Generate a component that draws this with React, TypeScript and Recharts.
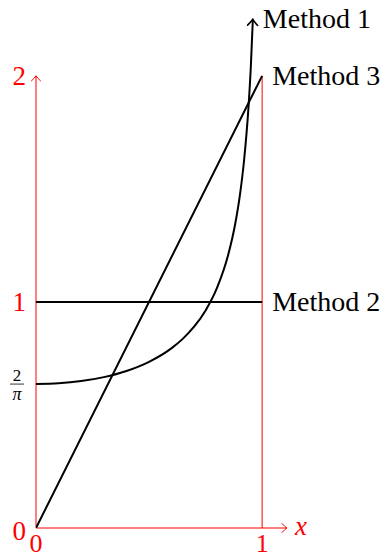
import React from 'react';
import { LineChart, Line, XAxis, YAxis, ReferenceLine } from 'recharts';

// Method 1: rises from 2/π and shoots up near x = 1
const method1X = [0, 0.1, 0.2, 0.3, 0.4, 0.5, 0.6, 0.65, 0.7, 0.75, 0.8, 0.85, 0.88, 0.9, 0.92, 0.94, 0.95, 0.959];
const method1Y = [0.6366, 0.6398, 0.6497, 0.6674, 0.6946, 0.7351, 0.7958, 0.8377, 0.8914, 0.9625, 1.061, 1.2085, 1.3403, 1.4605, 1.6244, 1.8658, 2.039, 2.25];
// Method 2: constant at 1
const method2X = [0, 1];
const method2Y = [1, 1];
// Method 3: straight line from 0 to 2
const method3X = [0, 1];
const method3Y = [0, 2];

const seriesNames = ['Method 1', 'Method 2', 'Method 3'];
const xTicks = [0, 1];
const yTicks = [0, 0.6366, 1, 2];
const yTickLabels = ['0', '2/π', '1', '2'];
const xAxisEnd = 1.11;
const yAxisEnd = 2;

const toPoints = (xs: number[], ys: number[]) => xs.map((x, i) => ({ x, y: ys[i] }));
const method1 = toPoints(method1X, method1Y);
const method2 = toPoints(method2X, method2Y);
const method3 = toPoints(method3X, method3Y);

const RED = '#ff0000';
const FONT = '"Liberation Serif", "Times New Roman", serif';

const endLabel = (name: string, lastIndex: number) => (p: any) => {
  if (p.index !== lastIndex) return null;
  return (
    <text x={p.x + 10} y={p.y + 9} fontSize={28} fontFamily={FONT} fill="#000" textAnchor="start">
      {name}
    </text>
  );
};

const XTick = (p: any) => {
  const v = p.payload.value;
  return (
    <text x={p.x} y={552} fontSize={26} fontFamily={FONT} fill={RED} textAnchor="middle">
      {String(v)}
    </text>
  );
};

const YTick = (p: any) => {
  const i = yTicks.indexOf(p.payload.value);
  const label = yTickLabels[i];
  if (label === '2/π') {
    return (
      <g fontFamily={FONT} fill="#000">
        <text x={17} y={p.y - 3} fontSize={17} textAnchor="middle">2</text>
        <line x1={10} x2={24} y1={p.y} y2={p.y} stroke="#000" strokeWidth={0.8} />
        <text x={17} y={p.y + 16} fontSize={18} textAnchor="middle" fontStyle="italic">π</text>
      </g>
    );
  }
  const dy = label === '0' ? 12 : 9;
  return (
    <text x={26} y={p.y + dy} fontSize={27} fontFamily={FONT} fill={RED} textAnchor="end">
      {label}
    </text>
  );
};

const axisShape = (withLabel: boolean) => (p: any) => (
  <g>
    <line x1={p.x1} y1={p.y1} x2={p.x2} y2={p.y2} stroke={RED} strokeWidth={1} markerEnd="url(#redArrow)" />
    {withLabel ? (
      <text x={p.x2 + 8} y={p.y2 + 7} fontSize={27} fontFamily={FONT} fontStyle="italic" fill={RED}>
        x
      </text>
    ) : null}
  </g>
);

const plainRed = (p: any) => (
  <line x1={p.x1} y1={p.y1} x2={p.x2} y2={p.y2} stroke={RED} strokeWidth={1} />
);

export default function App() {
  return (
    <div style={{ position: 'absolute', left: 0, top: 0, width: 385, height: 558, background: '#fff' }}>
      <svg width={0} height={0} style={{ position: 'absolute' }}>
        <defs>
          <marker id="redArrow" viewBox="-7 -6 9 12" markerWidth={9} markerHeight={12} refX={0} refY={0}
            orient="auto" markerUnits="userSpaceOnUse">
            <path d="M -5 -4.5 Q -1.8 -1 0 0 Q -1.8 1 -5 4.5" fill="none" stroke={RED} strokeWidth={1} strokeLinecap="round" />
          </marker>
          <marker id="blackArrow" viewBox="-8 -7 10 14" markerWidth={10} markerHeight={14} refX={0} refY={0}
            orient="auto" markerUnits="userSpaceOnUse">
            <path d="M -6 -5 Q -2 -1.2 0 0 Q -2 1.2 -6 5" fill="none" stroke="#000" strokeWidth={1.6} strokeLinecap="round" />
          </marker>
        </defs>
      </svg>
      <LineChart width={385} height={558} margin={{ top: 8, right: 98, bottom: 0, left: 0 }}>
        <XAxis type="number" dataKey="x" domain={[0, xAxisEnd]} ticks={xTicks} axisLine={false} tickLine={false}
          tick={<XTick />} height={30} allowDataOverflow />
        <YAxis type="number" dataKey="y" domain={[0, 2.3]} ticks={yTicks} axisLine={false} tickLine={false}
          tick={<YTick />} width={36} allowDataOverflow />
        <ReferenceLine segment={[{ x: 0, y: 0 }, { x: xAxisEnd, y: 0 }]} shape={axisShape(true)} ifOverflow="visible" />
        <ReferenceLine segment={[{ x: 0, y: 0 }, { x: 0, y: yAxisEnd }]} shape={axisShape(false)} ifOverflow="visible" />
        <ReferenceLine segment={[{ x: 1, y: 0 }, { x: 1, y: yAxisEnd }]} shape={plainRed} ifOverflow="visible" />
        <Line data={method2} dataKey="y" type="linear" stroke="#000" strokeWidth={2} dot={false}
          isAnimationActive={false} label={endLabel(seriesNames[1], method2.length - 1)} />
        <Line data={method3} dataKey="y" type="linear" stroke="#000" strokeWidth={2} dot={false}
          isAnimationActive={false} label={endLabel(seriesNames[2], method3.length - 1)} />
        <Line data={method1} dataKey="y" type="monotone" stroke="#000" strokeWidth={2} dot={false}
          isAnimationActive={false} markerEnd="url(#blackArrow)" label={endLabel(seriesNames[0], method1.length - 1)} />
      </LineChart>
    </div>
  );
}
